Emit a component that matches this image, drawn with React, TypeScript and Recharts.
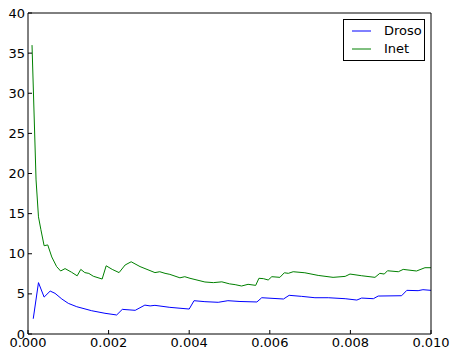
import { LineChart, Line, XAxis, YAxis, Legend } from 'recharts'

// Droso series (x in seconds-ish units, y value)
const drosoX = [
  0.00013, 0.00026, 0.0004, 0.00055, 0.00067, 0.00084, 0.001, 0.00121, 0.00158, 0.00191,
  0.0022, 0.00234, 0.00253, 0.00266, 0.0029, 0.00303, 0.00315, 0.00352, 0.004, 0.00412,
  0.00439, 0.00472, 0.00496, 0.00526, 0.00568, 0.0058, 0.00634, 0.00648, 0.00679, 0.00712,
  0.00745, 0.00787, 0.00816, 0.00828, 0.00857, 0.00869, 0.00927, 0.0094, 0.00968, 0.0098,
  0.01,
]
const drosoY = [
  1.9, 6.4, 4.6, 5.35, 5.07, 4.36, 3.82, 3.4, 2.9, 2.58,
  2.37, 3.07, 3.0, 2.95, 3.6, 3.5, 3.57, 3.32, 3.11, 4.15,
  4.03, 3.95, 4.15, 4.05, 3.99, 4.52, 4.36, 4.82, 4.69, 4.52,
  4.52, 4.4, 4.23, 4.48, 4.4, 4.73, 4.77, 5.44, 5.4, 5.52,
  5.44,
]

// Inet series
const inetX = [
  0.0001, 0.0002, 0.00026, 0.00032, 0.0004, 0.00049, 0.00059, 0.00071, 0.00081, 0.00092,
  0.00108, 0.00122, 0.00131, 0.00141, 0.00151, 0.00162, 0.00184, 0.00194, 0.00209, 0.00226,
  0.00241, 0.00256, 0.00278, 0.00315, 0.00327, 0.0034, 0.00352, 0.00377, 0.00389, 0.00402,
  0.00439, 0.0046, 0.00481, 0.005, 0.00514, 0.0053, 0.00546, 0.00565, 0.00573, 0.00584,
  0.00596, 0.00605, 0.00625, 0.00636, 0.00646, 0.00658, 0.00687, 0.0072, 0.00757, 0.00787,
  0.00799, 0.00828, 0.00861, 0.00873, 0.00884, 0.00892, 0.00919, 0.00931, 0.00964, 0.00985,
  0.01,
]
const inetY = [
  36.0, 19.2, 14.6, 13.0, 11.0, 11.1, 9.6, 8.4, 7.85, 8.15,
  7.7, 7.25, 8.05, 7.65, 7.55, 7.2, 6.85, 8.5, 8.05, 7.65,
  8.6, 9.0, 8.4, 7.65, 7.76, 7.56, 7.43, 7.0, 7.14, 6.94,
  6.48, 6.4, 6.5, 6.25, 6.15, 5.98, 6.19, 6.06, 6.94, 6.9,
  6.73, 7.14, 7.06, 7.63, 7.56, 7.76, 7.63, 7.3, 7.06, 7.18,
  7.47, 7.26, 7.06, 7.56, 7.47, 7.88, 7.76, 8.05, 7.85, 8.26,
  8.26,
]

const xTicks = [0, 0.002, 0.004, 0.006, 0.008, 0.01]
const yTicks = [0, 5, 10, 15, 20, 25, 30, 35, 40]

const droso = drosoX.map((x, i) => ({ x, y: drosoY[i] }))
const inet = inetX.map((x, i) => ({ x, y: inetY[i] }))

const FONT = 'DejaVu Sans'
const tickStyle = { fontFamily: FONT, fontSize: 13, fill: '#000' }

function LegendBox({ payload }: any) {
  return (
    <div
      style={{
        width: 80,
        height: 40,
        border: '1px solid #000',
        background: '#fff',
        fontFamily: FONT,
        fontSize: 13,
        position: 'relative',
      }}
    >
      {(payload || []).map((p: any, i: number) => (
        <div
          key={p.value}
          style={{ position: 'absolute', left: 8, top: 3 + i * 18, height: 16, display: 'flex', alignItems: 'center' }}
        >
          <svg width={19} height={16}>
            <line x1={0} x2={19} y1={8} y2={8} stroke={p.color} strokeWidth={1} />
          </svg>
          <span style={{ marginLeft: 13, lineHeight: '16px' }}>{p.value}</span>
        </div>
      ))}
    </div>
  )
}

// no-label tick for the top / right frame axes
const NoLabel = () => <g />

export default function App() {
  return (
    <div style={{ position: 'absolute', left: 0, top: 0 }}>
      <LineChart width={451} height={351} margin={{ top: 12, right: 19, bottom: 0, left: 0 }}>
        <XAxis
          dataKey="x"
          type="number"
          domain={[0, 0.01]}
          ticks={xTicks}
          tickFormatter={(v: number) => v.toFixed(3)}
          height={17}
          tickSize={-4}
          tickMargin={8}
          stroke="#000"
          tick={tickStyle}
          allowDataOverflow
        />
        <XAxis
          xAxisId="top"
          orientation="top"
          type="number"
          domain={[0, 0.01]}
          ticks={xTicks}
          height={1}
          tickSize={-4}
          tick={<NoLabel />}
          stroke="#000"
        />
        <YAxis
          type="number"
          domain={[0, 40]}
          ticks={yTicks}
          width={28}
          tickSize={-4}
          tickMargin={7}
          stroke="#000"
          tick={tickStyle}
          allowDataOverflow
        />
        <YAxis
          yAxisId="right"
          orientation="right"
          type="number"
          domain={[0, 40]}
          ticks={yTicks}
          width={1}
          tickSize={-4}
          tick={<NoLabel />}
          stroke="#000"
        />
        <Legend
          layout="vertical"
          align="center"
          verticalAlign="middle"
          content={<LegendBox />}
          wrapperStyle={{ top: 19, left: 343, width: 82, height: 42 }}
        />
        <Line
          data={droso}
          dataKey="y"
          name="Droso"
          type="linear"
          stroke="#0000ff"
          strokeWidth={1}
          dot={false}
          isAnimationActive={false}
        />
        <Line
          data={inet}
          dataKey="y"
          name="Inet"
          type="linear"
          stroke="#008000"
          strokeWidth={1}
          dot={false}
          isAnimationActive={false}
        />
      </LineChart>
    </div>
  )
}
